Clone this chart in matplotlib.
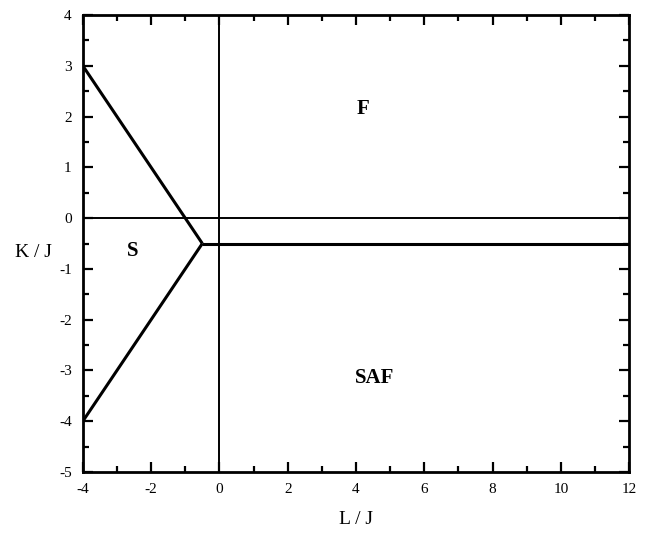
import matplotlib
matplotlib.use("Agg")
import matplotlib.pyplot as plt
from matplotlib.ticker import MultipleLocator

plt.rcParams['font.family'] = ['Liberation Serif', 'DejaVu Serif']
plt.rcParams['axes.unicode_minus'] = False

# phase boundaries (L/J, K/J)
upper_x = [-4, -0.5]
upper_y = [3, -0.5]
lower_x = [-4, -0.5]
lower_y = [-4, -0.5]
flat_x = [-0.5, 12]
flat_y = [-0.5, -0.5]

# region labels
labels = ['F', 'S', 'SAF']
label_x = [4.2, -2.55, 4.55]
label_y = [2.15, -0.65, -3.15]

fig = plt.figure(figsize=(6.52, 5.33), dpi=100)
ax = fig.add_axes([0.127, 0.1144, 0.838, 0.8575])

# coordinate axes
ax.axhline(0, color='black', lw=1.4)
ax.axvline(0, color='black', lw=1.4)

for xs, ys in [(upper_x, upper_y), (lower_x, lower_y), (flat_x, flat_y)]:
    ax.plot(xs, ys, color='black', lw=2.2, solid_capstyle='butt')

for t, x, y in zip(labels, label_x, label_y):
    ax.text(x, y, t, fontsize=15, fontweight='bold', ha='center', va='center')

ax.set_xlim(-4, 12)
ax.set_ylim(-5, 4)
ax.xaxis.set_major_locator(MultipleLocator(2))
ax.xaxis.set_minor_locator(MultipleLocator(1))
ax.yaxis.set_major_locator(MultipleLocator(1))
ax.yaxis.set_minor_locator(MultipleLocator(0.5))
ax.tick_params(which='both', direction='in', top=True, right=True, width=1.6, labelsize=11)
ax.tick_params(which='major', length=7, pad=8)
ax.tick_params(which='minor', length=4)
for s in ax.spines.values():
    s.set_linewidth(2)

ax.set_xlabel('L / J', fontsize=14, labelpad=11)
ax.set_ylabel('K / J', fontsize=14, rotation=0, va='center', ha='center')
ax.yaxis.set_label_coords(-0.09, 0.48)

fig.savefig('out.png', dpi=100)
